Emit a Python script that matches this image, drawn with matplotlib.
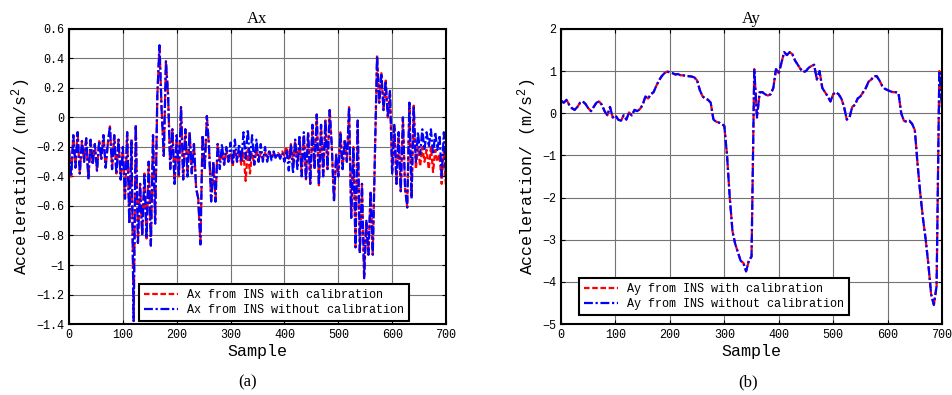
import numpy as np
import matplotlib
matplotlib.use('Agg')
import matplotlib.pyplot as plt
from matplotlib.ticker import FuncFormatter

plt.rcParams['font.family'] = ['Liberation Mono', 'DejaVu Sans Mono']
plt.rcParams['mathtext.default'] = 'regular'

# Ax, one value every 4 samples (0..700)
ax_raw = [-0.22, -0.40, -0.12, -0.34, -0.10, -0.38, -0.16, -0.30, -0.14, -0.42,
          -0.15, -0.32, -0.18, -0.36, -0.16, -0.28, -0.12, -0.34, -0.18, -0.06,
          -0.35, -0.12, -0.38, -0.15, -0.42, -0.20, -0.55, -0.10, -0.72, -0.15,
          -1.38, -0.05, -0.85, -0.45, -0.80, -0.38, -0.82, -0.30, -0.87, -0.12,
          -0.72, 0.15, 0.49, 0.05, -0.26, 0.38, 0.15, -0.35, -0.08, -0.45,
          -0.12, -0.40, 0.07, -0.42, -0.08, -0.40, -0.10, -0.38, -0.18, -0.48,
          -0.55, -0.86, -0.12, -0.35, 0.01, -0.20, -0.57, -0.30, -0.57, -0.18,
          -0.35, -0.18, -0.32, -0.20, -0.30, -0.17, -0.32, -0.15, -0.30, -0.18,
          -0.30, -0.10, -0.28, -0.08, -0.30, -0.12, -0.32, -0.15, -0.30, -0.18,
          -0.30, -0.20, -0.30, -0.22, -0.29, -0.23, -0.28, -0.24, -0.28, -0.24,
          -0.30, -0.22, -0.36, -0.18, -0.38, -0.15, -0.35, -0.12, -0.40, -0.10,
          -0.42, -0.10, -0.45, -0.05, -0.35, 0.02, -0.46, -0.05, -0.40, -0.02,
          -0.35, 0.05, -0.20, -0.57, -0.25, -0.40, -0.10, -0.35, -0.15, -0.30,
          0.07, -0.68, -0.20, -0.88, -0.02, -0.92, -0.45, -1.09, -0.70, -0.93,
          -0.50, -0.93, -0.25, 0.42, 0.10, 0.30, 0.05, 0.25, 0.00, 0.18,
          -0.38, -0.05, -0.45, -0.10, -0.50, 0.00, -0.48, -0.61, 0.10, -0.55,
          0.08, -0.30, -0.10, -0.25, -0.08, -0.22, -0.10, -0.20, -0.08, -0.25,
          -0.10, -0.22, -0.12, -0.40, -0.10, -0.40]

ax_cal = [-0.22, -0.40, -0.12, -0.34, -0.10, -0.38, -0.16, -0.30, -0.14, -0.42,
          -0.15, -0.32, -0.18, -0.36, -0.16, -0.28, -0.12, -0.34, -0.18, -0.06,
          -0.35, -0.12, -0.38, -0.15, -0.42, -0.20, -0.55, -0.10, -0.72, -0.15,
          -1.38, -0.05, -0.85, -0.45, -0.80, -0.38, -0.82, -0.30, -0.87, -0.12,
          -0.72, 0.15, 0.49, 0.05, -0.26, 0.38, 0.15, -0.35, -0.08, -0.45,
          -0.12, -0.40, 0.07, -0.42, -0.08, -0.40, -0.10, -0.38, -0.18, -0.48,
          -0.55, -0.86, -0.12, -0.35, 0.01, -0.20, -0.57, -0.30, -0.57, -0.18,
          -0.30, -0.24, -0.32, -0.22, -0.30, -0.25, -0.33, -0.22, -0.30, -0.25,
          -0.32, -0.24, -0.43, -0.22, -0.38, -0.24, -0.32, -0.22, -0.30, -0.24,
          -0.28, -0.24, -0.27, -0.23, -0.27, -0.24, -0.27, -0.24, -0.26, -0.23,
          -0.26, -0.20, -0.28, -0.18, -0.30, -0.16, -0.32, -0.14, -0.38, -0.12,
          -0.42, -0.10, -0.45, -0.05, -0.35, 0.02, -0.46, -0.05, -0.40, -0.02,
          -0.35, 0.05, -0.20, -0.57, -0.25, -0.40, -0.10, -0.35, -0.15, -0.30,
          0.07, -0.68, -0.20, -0.88, -0.02, -0.92, -0.45, -1.09, -0.70, -0.93,
          -0.50, -0.93, -0.25, 0.42, 0.10, 0.30, 0.05, 0.25, 0.00, 0.18,
          -0.38, -0.05, -0.45, -0.10, -0.50, 0.00, -0.48, -0.61, 0.10, -0.55,
          0.08, -0.35, -0.20, -0.33, -0.20, -0.30, -0.22, -0.35, -0.20, -0.37,
          -0.22, -0.30, -0.25, -0.45, -0.22, -0.47]

# Ay, one value every 5 samples (0..700)
ay_cal = [0.30, 0.25, 0.32, 0.20, 0.12, 0.08, 0.15, 0.25, 0.28, 0.22,
          0.12, 0.05, 0.15, 0.25, 0.28, 0.20, 0.05, -0.05, 0.15, -0.10,
          -0.05, -0.15, -0.18, -0.05, -0.15, 0.02, -0.05, 0.08, 0.05, 0.10,
          0.20, 0.40, 0.35, 0.45, 0.50, 0.65, 0.78, 0.88, 0.95, 0.99,
          0.97, 0.95, 0.92, 0.93, 0.90, 0.90, 0.88, 0.88, 0.87, 0.85,
          0.78, 0.55, 0.40, 0.35, 0.32, 0.25, -0.15, -0.20, -0.22, -0.25,
          -0.30, -1.00, -2.00, -2.80, -3.10, -3.30, -3.50, -3.55, -3.75, -3.50,
          -3.40, 1.05, -0.10, 0.50, 0.50, 0.45, 0.42, 0.45, 0.60, 1.05,
          0.95, 1.20, 1.45, 1.38, 1.45, 1.40, 1.25, 1.15, 1.05, 0.98,
          1.00, 1.08, 1.12, 1.15, 0.80, 1.00, 0.60, 0.50, 0.40, 0.28,
          0.45, 0.50, 0.45, 0.35, 0.15, -0.15, -0.10, 0.15, 0.20, 0.35,
          0.40, 0.50, 0.60, 0.75, 0.80, 0.88, 0.88, 0.78, 0.65, 0.58,
          0.55, 0.52, 0.50, 0.50, 0.48, 0.00, -0.18, -0.20, -0.18, -0.25,
          -0.40, -1.20, -1.90, -2.50, -3.00, -3.60, -4.30, -4.55, -4.10, 1.00,
          0.10]
ay_raw = list(ay_cal)

x_ax = np.arange(len(ax_raw)) * 4
x_ay = np.arange(len(ay_cal)) * 5

red_dash = (2.5, 1.2)
blue_dashdot = (4, 1.2, 1, 1.2)


def fmt(v, pos):
    if abs(v) < 1e-9:
        return '0'
    return ('%g' % round(v, 2)).replace('-', '\u2212')


def style_axes(ax, title, ylim, yticks):
    ax.set_xlim(0, 700)
    ax.set_ylim(*ylim)
    ax.set_xticks(np.arange(0, 701, 100))
    ax.set_yticks(yticks)
    ax.yaxis.set_major_formatter(FuncFormatter(fmt))
    ax.grid(True, color='0.45', linewidth=0.8)
    ax.tick_params(direction='in', top=True, right=True, labelsize=8.5, length=3)
    for s in ax.spines.values():
        s.set_linewidth(1.5)
    ax.set_title(title, fontsize=12, family='Liberation Serif', pad=4)
    ax.set_xlabel('Sample', fontsize=12, labelpad=2)
    ax.set_ylabel('Acceleration/ (m/s$^{2}$)', fontsize=12, labelpad=2)


fig = plt.figure(figsize=(9.53, 3.95), dpi=100)
ax1 = fig.add_axes([0.0724, 0.1797, 0.3956, 0.747])
ax2 = fig.add_axes([0.5887, 0.1797, 0.3998, 0.747])

ax1.plot(x_ax, ax_cal, color='red', ls='--', dashes=red_dash, lw=1.6,
         label='Ax from INS with calibration')
ax1.plot(x_ax, ax_raw, color='blue', ls='-.', dashes=blue_dashdot, lw=1.6,
         label='Ax from INS without calibration')
style_axes(ax1, 'Ax', (-1.4, 0.6), np.arange(-1.4, 0.61, 0.2))
leg1 = ax1.legend(loc='lower right', bbox_to_anchor=(0.902, 0.01), fontsize=8.5,
                  fancybox=False, edgecolor='black', framealpha=1,
                  handlelength=2.9, borderaxespad=0, borderpad=0.4, labelspacing=0.3)
leg1.get_frame().set_linewidth(1.5)

ax2.plot(x_ay, ay_cal, color='red', ls='--', dashes=red_dash, lw=1.6,
         label='Ay from INS with calibration')
ax2.plot(x_ay, ay_raw, color='blue', ls='-.', dashes=blue_dashdot, lw=1.6,
         label='Ay from INS without calibration')
style_axes(ax2, 'Ay', (-5, 2), np.arange(-5, 3, 1))
leg2 = ax2.legend(loc='lower left', bbox_to_anchor=(0.047, 0.03), fontsize=8.5,
                  fancybox=False, edgecolor='black', framealpha=1,
                  handlelength=2.9, borderaxespad=0, borderpad=0.4, labelspacing=0.3)
leg2.get_frame().set_linewidth(1.5)

fig.text(0.260, 1 - 382 / 395, '(a)', ha='center', va='center', fontsize=12,
         family='Liberation Serif')
fig.text(0.785, 1 - 382 / 395, '(b)', ha='center', va='center', fontsize=12,
         family='Liberation Serif')

fig.savefig('out.png', dpi=100)
